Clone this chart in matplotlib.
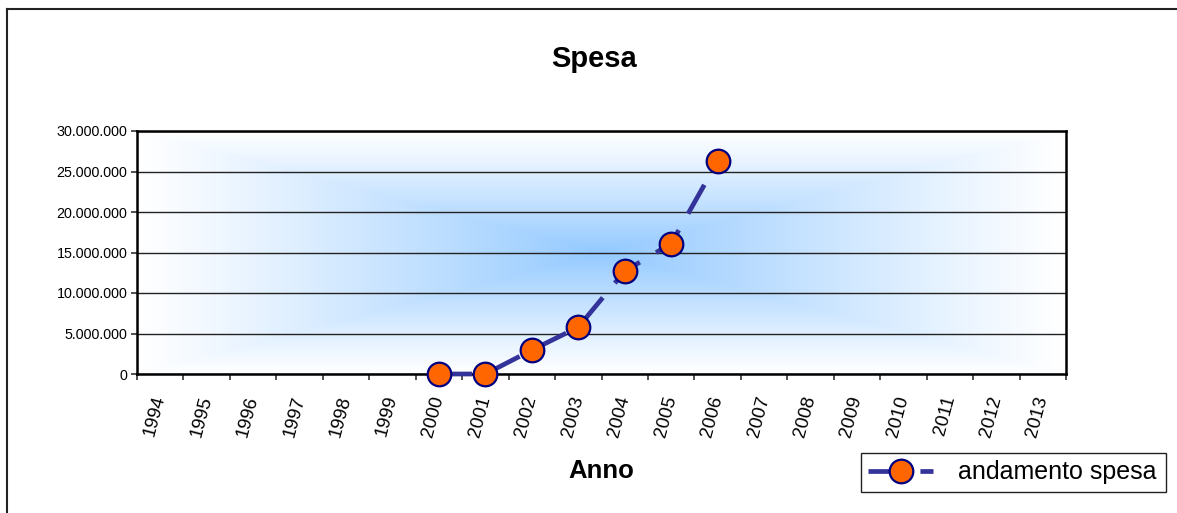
import numpy as np
import matplotlib.pyplot as plt
from matplotlib.ticker import FuncFormatter, FixedLocator
from matplotlib.lines import Line2D

plt.rcParams['font.family'] = ['Liberation Sans', 'DejaVu Sans']

# dati
anni = [str(a) for a in range(1994, 2014)]
anni_spesa = ['2000', '2001', '2002', '2003', '2004', '2005', '2006']
spesa = [0, 0, 2950000, 5780000, 12700000, 16100000, 26250000]
y_ticks = [0, 5000000, 10000000, 15000000, 20000000, 25000000, 30000000]

W, H = 1177, 513
fig = plt.figure(figsize=(W / 100, H / 100), dpi=100)
ax = fig.add_axes([137 / W, 1 - 374 / H, (1066 - 137) / W, (374 - 131) / H])

# sfondo sfumato dal centro
nx, ny = 400, 200
u = np.linspace(-1, 1, nx)
v = np.linspace(-1, 1, ny)
U, V = np.meshgrid(u, v)
t = np.maximum(np.abs(U), np.abs(V))
w = (1 - t) ** 1.1
centro = np.array([0.58, 0.79, 1.0])
img = 1 - w[..., None] * (1 - centro)
ax.imshow(img, extent=(-0.5, len(anni) - 0.5, 0, 30000000), aspect='auto',
          zorder=0, interpolation='bilinear')

x = [anni.index(a) for a in anni_spesa]
ax.plot(x, spesa, color='#333399', lw=3.4, dashes=(7, 4),
        marker='o', markersize=17, markerfacecolor='#FF6600',
        markeredgecolor='#000080', markeredgewidth=1.6,
        label='andamento spesa', zorder=3, clip_on=False)

ax.set_xlim(-0.5, len(anni) - 0.5)
ax.set_ylim(0, 30000000)
ax.set_yticks(y_ticks)
ax.yaxis.set_major_formatter(FuncFormatter(lambda val, p: f'{int(val):,}'.replace(',', '.')))
ax.grid(axis='y', color='#222222', lw=1.0)
ax.set_axisbelow(True)

ax.set_xticks(range(len(anni)))
ax.set_xticklabels(anni, rotation=75, rotation_mode='anchor', ha='right', va='center',
                   fontsize=13.5)
ax.xaxis.set_minor_locator(FixedLocator(np.arange(-0.5, len(anni), 1)))
ax.tick_params(axis='x', which='major', length=0, pad=16)
ax.tick_params(axis='x', which='minor', length=4.5, width=1.2, color='#333333')
ax.tick_params(axis='y', length=4, width=1.2, pad=3, labelsize=10.3, color='#333333')

for s in ax.spines.values():
    s.set_linewidth(1.8)
    s.set_color('black')

fig.text(594 / W, 1 - 67 / H, 'Spesa', ha='center', va='baseline',
         fontsize=21, fontweight='bold')
fig.text(601 / W, 1 - 478 / H, 'Anno', ha='center', va='baseline',
         fontsize=18.5, fontweight='bold')

leg = fig.legend(loc='upper left',
                 bbox_to_anchor=(861 / W, 1 - 491 / H, (1166 - 861) / W, (491 - 453) / H),
                 mode='expand', borderaxespad=0, fontsize=18, handlelength=2.6,
                 handletextpad=1.0, borderpad=0.3, fancybox=False,
                 framealpha=1, edgecolor='#222222')
leg.get_frame().set_linewidth(1.0)

# cornice esterna
fig.add_artist(Line2D([7 / W, 1], [1 - 9 / H, 1 - 9 / H], transform=fig.transFigure,
                      color='#222222', lw=1.5))
fig.add_artist(Line2D([7 / W, 7 / W], [0, 1 - 9 / H], transform=fig.transFigure,
                      color='#222222', lw=1.5))

fig.savefig('out.png', dpi=100)
